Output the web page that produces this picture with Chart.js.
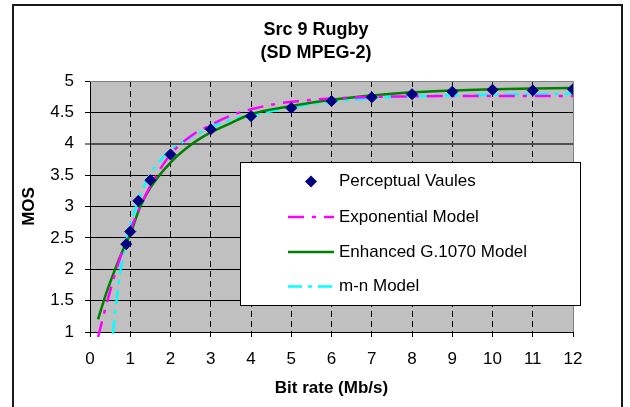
<!DOCTYPE html>
<html>
<head>
<meta charset="utf-8">
<title>Src 9 Rugby (SD MPEG-2)</title>
<script src="https://cdn.jsdelivr.net/npm/chart.js@4.4.1/dist/chart.umd.min.js"></script>
<style>
  html, body { margin: 0; padding: 0; background: #fff; }
  #wrap { width: 630px; height: 407px; }
</style>
</head>
<body>
<div id="wrap"><canvas id="mosChart" width="630" height="407"></canvas></div>
<script>
// valores
const xTicks = [0, 1, 2, 3, 4, 5, 6, 7, 8, 9, 10, 11, 12];
const yTicks = [1, 1.5, 2, 2.5, 3, 3.5, 4, 4.5, 5];

const seriesNames = ['Perceptual Vaules', 'Exponential Model', 'Enhanced G.1070 Model', 'm-n Model'];

const perceptualRate = [0.9, 1, 1.2, 1.5, 2, 3, 4, 5, 6, 7, 8, 9, 10, 11, 12];
const perceptualMos  = [2.40, 2.60, 3.09, 3.42, 3.83, 4.23, 4.44, 4.57, 4.68, 4.74, 4.79, 4.83, 4.86, 4.85, 4.87];

const expRate = [0.2, 0.4, 0.6, 0.8, 1, 1.2, 1.5, 2, 2.5, 3, 3.5, 4, 4.5, 5, 6, 7, 8, 9, 10, 11, 12];
const expMos  = [0.92, 1.42, 1.88, 2.28, 2.62, 2.93, 3.33, 3.83, 4.12, 4.30, 4.45, 4.55, 4.62, 4.67, 4.72, 4.745, 4.755, 4.76, 4.76, 4.76, 4.76];

const g1070Rate = [0.2, 0.4, 0.6, 0.8, 1, 1.25, 1.5, 2, 2.5, 3, 3.5, 4, 5, 6, 7, 8, 9, 10, 11, 12];
const g1070Mos  = [1.20, 1.61, 1.96, 2.28, 2.56, 3.00, 3.30, 3.70, 3.98, 4.18, 4.33, 4.47, 4.60, 4.70, 4.77, 4.82, 4.85, 4.87, 4.88, 4.89];

const mnRate = [0.57, 0.65, 0.75, 0.85, 1, 1.2, 1.5, 1.7, 2, 2.3, 2.5, 3, 3.5, 4, 4.6, 5, 5.6, 6, 6.5, 7, 8, 9, 10, 11, 12];
const mnMos  = [0.97, 1.45, 1.95, 2.30, 2.70, 3.10, 3.52, 3.70, 3.90, 4.03, 4.10, 4.26, 4.38, 4.45, 4.53, 4.58, 4.64, 4.67, 4.70, 4.73, 4.755, 4.77, 4.78, 4.79, 4.80];

const toPoints = (xs, ys) => xs.map((x, i) => ({ x: x, y: ys[i] }));

Chart.defaults.font.family = '"Liberation Sans", Arial, sans-serif';
Chart.defaults.color = '#000';

// marco exterior, fondo gris del area y titulo desplazado
const framePlugin = {
  id: 'frame',
  afterLayout(chart) {
    if (chart.titleBlock) { chart.titleBlock.left = 0; chart.titleBlock.right = 632; }
  },
  beforeDraw(chart) {
    const { ctx, chartArea: a } = chart;
    ctx.save();
    ctx.fillStyle = '#fff';
    ctx.fillRect(0, 0, chart.width, chart.height);
    ctx.fillStyle = '#1a1a1a';
    ctx.fillRect(12, 4, 2, 410);
    ctx.fillRect(12, 4, 611, 2);
    ctx.fillRect(621, 4, 2, 410);
    ctx.fillStyle = '#c0c0c0';
    ctx.fillRect(a.left, a.top, a.right - a.left, a.bottom - a.top);
    ctx.restore();
  },
  beforeDatasetsDraw(chart) {
    const { ctx, chartArea: a } = chart;
    ctx.save();
    ctx.strokeStyle = '#808080';
    ctx.lineWidth = 1;
    ctx.beginPath();
    ctx.moveTo(a.left, Math.round(a.top) + 0.5);
    ctx.lineTo(Math.round(a.right) + 0.5, Math.round(a.top) + 0.5);
    ctx.lineTo(Math.round(a.right) + 0.5, a.bottom);
    ctx.stroke();
    ctx.restore();
  }
};

// leyenda en recuadro blanco
const boxLegend = {
  id: 'boxLegend',
  afterDraw(chart) {
    const ctx = chart.ctx;
    const rows = [181.5, 217, 252, 286.5];
    ctx.save();
    ctx.fillStyle = '#fff';
    ctx.fillRect(240, 162, 340, 143);
    ctx.strokeStyle = '#000';
    ctx.lineWidth = 1;
    ctx.strokeRect(240.5, 162.5, 340, 143);
    chart.data.datasets.forEach((ds, i) => {
      const y = rows[i];
      if (ds.showLine === false) {
        const r = 6;
        ctx.fillStyle = ds.backgroundColor;
        ctx.beginPath();
        ctx.moveTo(311 - r, y); ctx.lineTo(311, y - r);
        ctx.lineTo(311 + r, y); ctx.lineTo(311, y + r);
        ctx.closePath();
        ctx.fill();
      } else {
        ctx.strokeStyle = ds.borderColor;
        ctx.lineWidth = ds.borderWidth;
        ctx.setLineDash(ds.borderDash || []);
        ctx.beginPath();
        ctx.moveTo(288, y); ctx.lineTo(334, y);
        ctx.stroke();
        ctx.setLineDash([]);
      }
      ctx.fillStyle = '#000';
      ctx.font = '17px "Liberation Sans", Arial, sans-serif';
      ctx.textBaseline = 'middle';
      ctx.textAlign = 'left';
      ctx.fillText(ds.label, 339, y);
    });
    ctx.restore();
  }
};

const ctx = document.getElementById('mosChart').getContext('2d');
new Chart(ctx, {
  type: 'line',
  data: {
    datasets: [{
      label: seriesNames[0],
      data: toPoints(perceptualRate, perceptualMos),
      showLine: false,
      pointStyle: 'rectRot',
      pointRadius: 5.5,
      pointBackgroundColor: '#000080',
      pointBorderColor: '#000080',
      backgroundColor: '#000080',
      borderColor: '#000080',
      pointBorderWidth: 1
    }, {
      label: seriesNames[1],
      data: toPoints(expRate, expMos),
      borderColor: '#ff00ff',
      borderWidth: 2.5,
      borderDash: [16, 8, 4, 8],
      pointRadius: 0,
      cubicInterpolationMode: 'monotone',
      clip: { left: 0, top: 0, right: 0, bottom: 6 }
    }, {
      label: seriesNames[2],
      data: toPoints(g1070Rate, g1070Mos),
      borderColor: '#008000',
      borderWidth: 2.5,
      pointRadius: 0,
      cubicInterpolationMode: 'monotone'
    }, {
      label: seriesNames[3],
      data: toPoints(mnRate, mnMos),
      borderColor: '#00ffff',
      borderWidth: 2.5,
      borderDash: [14, 6, 4, 6],
      pointRadius: 0,
      cubicInterpolationMode: 'monotone',
      clip: { left: 0, top: 0, right: 0, bottom: 6 }
    }]
  },
  options: {
    responsive: false,
    animation: false,
    devicePixelRatio: 1,
    layout: { padding: { left: 0, right: 57, top: 0, bottom: 0 } },
    plugins: {
      legend: { display: false },
      tooltip: { enabled: false },
      title: {
        display: true,
        text: ['Src 9 Rugby', '(SD MPEG-2)'],
        font: { size: 18, weight: 'bold', lineHeight: 23 / 18 },
        padding: { top: 18.5, bottom: 16.5 },
        color: '#000'
      }
    },
    scales: {
      x: {
        type: 'linear',
        min: 0,
        max: 12,
        afterBuildTicks: s => { s.ticks = xTicks.map(v => ({ value: v })); },
        afterFit: s => { s.height = 75; },
        ticks: { font: { size: 17 }, padding: 12, maxRotation: 0, autoSkip: false, callback: v => String(v) },
        grid: {
          color: c => (c.tick && (c.tick.value === 0 || c.tick.value === 12)) ? 'rgba(0,0,0,0)' : '#000',
          tickColor: '#000',
          tickLength: 5,
          lineWidth: 1
        },
        border: { display: true, color: '#000', width: 1, dash: [6, 4] },
        title: {
          display: true,
          text: 'Bit rate (Mb/s)',
          font: { size: 17, weight: 'bold' },
          padding: { top: 0, bottom: 8 }
        }
      },
      y: {
        min: 1,
        max: 5,
        afterBuildTicks: s => { s.ticks = yTicks.map(v => ({ value: v })); },
        afterFit: s => { s.width = 90; },
        ticks: { font: { size: 17 }, padding: 11, callback: v => String(v) },
        grid: {
          color: c => {
            if (!c.tick) return '#000';
            if (c.tick.value === 5) return 'rgba(0,0,0,0)';
            return c.tick.value === 4 ? '#505050' : '#000';
          },
          lineWidth: c => (c.tick && c.tick.value === 4) ? 2 : 1,
          tickColor: '#000',
          tickWidth: 1,
          tickLength: 5
        },
        border: { display: true, color: '#000', width: 1 },
        title: {
          display: true,
          text: 'MOS',
          font: { size: 17, weight: 'bold' },
          padding: { top: 19, bottom: 0 }
        }
      }
    }
  },
  plugins: [framePlugin, boxLegend]
});
</script>
</body>
</html>
